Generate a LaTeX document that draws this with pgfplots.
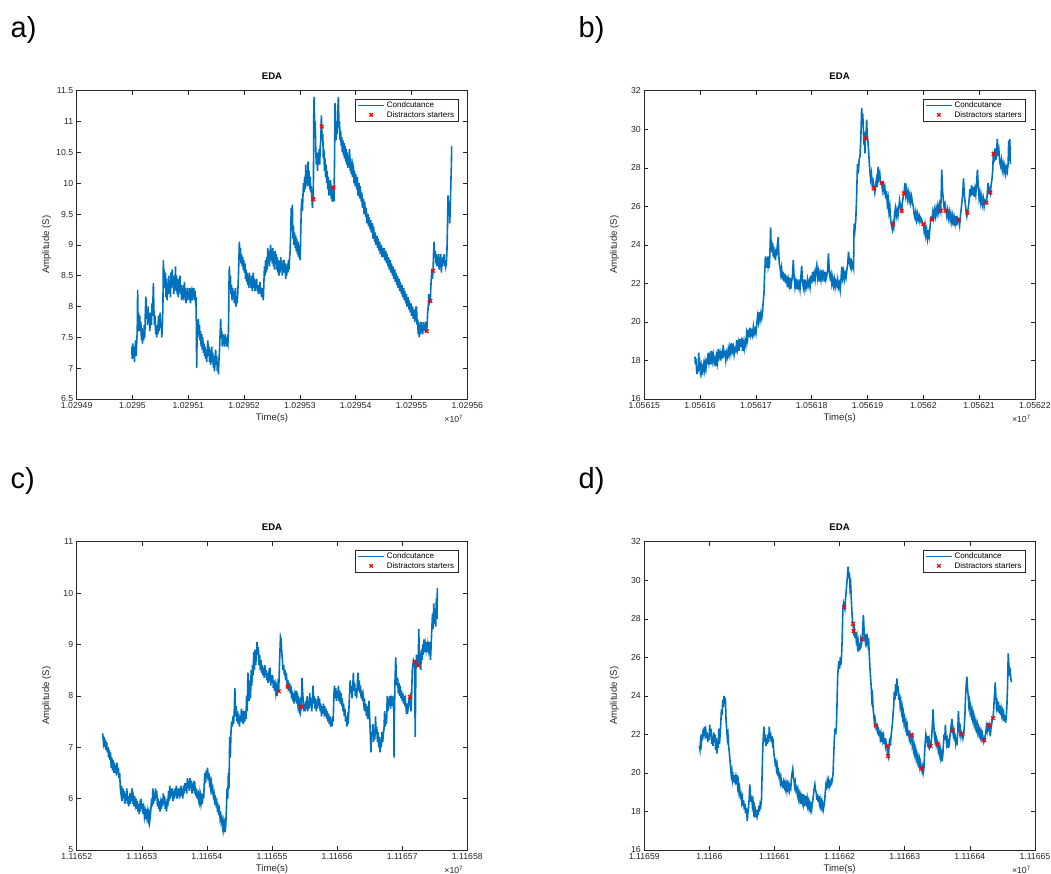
\documentclass[border=0pt]{standalone}
\usepackage{fontspec}
\setmainfont{Liberation Sans}
\usepackage{pgfplots}
\usepackage{pgfplotstable}
\pgfplotsset{compat=1.18}
\definecolor{mblue}{rgb}{0,0.447,0.741}
\definecolor{mgray}{rgb}{0.15,0.15,0.15}

\pgfplotstableread{
x y
98.6 7.35
99.5 7.15
100.5 7.4
101.5 7.2
102.5 7.35
103.5 7.1
104.5 7.3
105.5 7.45
106.5 7.2
107.5 7.4
108.5 7.6
109.2 8.27
110 7.7
111 7.9
112 7.6
113 7.85
114 7.6
115 7.75
116 7.45
117 7.65
118 7.4
119 7.6
120 7.45
121 7.7
122 7.5
123 7.9
124 8.16
125 7.8
126 7.95
127 7.7
128 8.0
129 7.75
130 7.9
131 7.6
132 7.8
133 7.9
134 7.7
135 8.05
136 7.85
137.4 8.38
138.5 7.9
139.5 7.7
140.5 7.85
141.5 7.55
142.5 7.65
143.5 7.5
144.5 7.7
145.5 7.55
146.5 7.85
147.5 7.6
148.5 7.75
149.5 7.9
150.5 7.65
151.5 7.75
152.5 7.5
153.5 7.7
154.5 8.0
155.3 8.75
156 8.5
157 8.6
158 8.3
159 8.55
160 8.15
161 8.45
162 8.1
163 8.35
164 8.2
165 8.5
166 8.25
167 8.4
168 8.15
169 8.55
170 8.3
171 8.6
172 8.35
173 8.5
174 8.2
175 8.45
176 8.25
177 8.65
178 8.3
179 8.5
180 8.2
181 8.45
182 8.15
183 8.4
184 8.25
185 8.5
186 8.2
187 8.35
188 8.1
189 8.3
190 8.15
191 8.35
192 8.1
193 8.4
194 8.15
195 8.3
196 8.05
197 8.25
198 8.1
199 8.3
200 8.15
201 8.25
202 8.1
203 8.3
204 8.05
205 8.2
206 8.25
207 8.1
208 8.3
209 8.15
210 8.3
211 8.1
212 8.25
213 8.1
214 8.15
215 7.0
216 7.65
217 7.5
218 7.8
219 7.55
220 7.7
221 7.45
222 7.6
223 7.35
224 7.55
225 7.3
226 7.5
227 7.25
228 7.4
229 7.2
230 7.35
231 7.15
232 7.3
233 7.1
234 7.3
235 7.45
236 7.2
237 7.35
238 7.1
239 7.3
240 7.05
241 7.2
242 7.35
243 7.1
244 7.25
245 7.0
246 7.2
247 6.95
248 7.15
249 7.3
250 7.05
251 7.2
252 6.95
253 7.1
254 6.9
255 7.15
256 7.3
257 7.55
258 7.8
259 7.5
260 7.6
261 7.35
262 7.55
263 7.4
264 7.5
265 7.35
266 7.55
267 7.4
268 7.5
269 7.35
270 7.45
271 7.4
272 7.6
273 8.4
273.6 8.65
274.5 8.3
275.5 8.5
276.5 8.2
277.5 8.35
278.5 8.1
279.5 8.3
280.5 8.15
281.5 8.25
282.5 8.05
283.5 8.2
284.5 8.3
285.5 8.0
286.5 8.15
287.5 8.05
288.5 8.2
289.5 8.4
290.5 8.7
291.5 9.05
292.5 8.75
293.5 8.95
294.5 8.7
295.5 8.85
296.5 8.65
297.5 8.8
298.5 8.6
299.5 8.75
300.5 8.55
301.5 8.7
302.5 8.45
303.5 8.6
304.5 8.4
305.5 8.55
306.5 8.35
307.5 8.5
308.5 8.3
309.5 8.55
310.5 8.35
311.5 8.45
312.5 8.3
313.5 8.5
314.5 8.25
315.5 8.4
316.5 8.55
317.5 8.3
318.5 8.45
319.5 8.25
320.5 8.4
321.5 8.3
322.5 8.45
323.5 8.25
324.5 8.35
325.5 8.2
326.5 8.35
327.5 8.25
328.5 8.4
329.5 8.2
330.5 8.3
331.5 8.15
332.5 8.3
333.5 8.2
334.5 8.1
335.5 8.4
336.5 8.65
337.5 8.5
338.5 8.75
339.5 8.55
340.5 8.8
341.5 8.6
342.5 8.95
343.5 8.7
344.5 8.9
345.5 8.65
346.5 8.85
347.5 9.0
348.5 8.75
349.5 8.9
350.5 8.7
351.5 8.95
352.5 8.65
353.5 8.85
354.5 8.6
355.5 8.9
356.5 8.7
357.5 8.85
358.5 8.6
359.5 8.8
360.5 8.55
361.5 8.75
362.5 8.5
363.5 8.7
364.5 8.55
365.5 8.8
366.5 8.6
367.5 8.75
368.5 8.5
369.5 8.7
370.5 8.55
371.5 8.75
372.5 8.55
373.5 8.7
374.5 8.45
375.5 8.65
376.5 8.5
377.5 8.7
378.5 8.55
379.5 8.75
380.5 8.6
381.5 8.8
382.5 8.9
383.5 9.2
384.5 9.6
385.5 9.4
386.5 9.65
387.5 9.1
388.5 9.3
389.5 9.0
390.5 9.2
391.5 8.95
392.5 9.15
393.5 8.9
394.5 9.1
395.5 8.85
396.5 9.05
397.5 8.8
398.5 9.0
399.5 8.85
400.5 8.75
401.5 9.2
402.5 9.6
403.5 9.75
404.5 9.55
405.5 9.8
406.5 10.0
407.5 9.85
408.5 10.1
409.5 9.9
410.5 10.3
411.5 10.0
412.5 10.15
413.5 9.95
414.5 10.35
415.5 10.05
416.5 10.2
417.5 9.9
418.5 10.1
419.5 9.85
420.5 9.95
421.5 9.75
422.5 9.6
423.5 9.8
424.1 9.74
425 11.3
425.7 11.4
426.5 10.8
427.5 11.0
428.5 10.5
429.5 10.3
430.5 10.5
431.5 10.2
432.5 10.4
433.5 10.3
434.5 10.55
435.5 10.3
436.5 10.6
437.5 10.7
438.5 11.1
439.1 10.92
440 10.7
441 10.8
442 10.4
443 10.55
444 10.2
445 10.4
446 10.1
447 10.3
448 10.0
449 10.2
450 9.9
451 10.1
452 9.8
453 10.0
454 9.85
455 10.05
456 9.75
457 9.95
458 9.7
459 9.85
460 9.93
461 9.7
462 10.3
463 11.3
464 10.9
465 10.7
466 11.0
467 10.8
468 11.2
469 11.4
470 10.9
471 11.0
472 10.7
473 10.85
474 10.6
475 10.75
476 10.5
477 10.7
478 10.45
479 10.65
480 10.4
481 10.6
482 10.35
483 10.55
484 10.3
485 10.5
486 10.25
487 10.45
488 10.3
489 10.55
490 10.2
491 10.4
492 10.15
493 10.35
494 10.1
495 10.3
496 10.25
497 10.0
498 10.2
499 9.95
500 10.15
502 9.9
503 10.1
504 9.8
506 10.0
507 9.75
508 9.95
510 9.7
511 9.85
512 9.6
514 9.75
515 9.5
516 9.7
518 9.45
519 9.6
520 9.35
522 9.5
523 9.3
524 9.45
526 9.25
527 9.4
528 9.2
530 9.35
531 9.1
532 9.3
534 9.05
535 9.2
536 9.0
538 9.15
539 8.95
540 9.1
542 8.9
543 9.05
544 8.85
546 9.0
547 8.8
548 8.95
550 8.8
551 8.95
552 8.75
554 8.9
555 8.7
556 8.85
558 8.65
559 8.8
560 8.6
562 8.75
563 8.55
564 8.7
566 8.5
567 8.65
568 8.45
570 8.6
571 8.4
572 8.55
574 8.35
575 8.5
576 8.3
578 8.45
579 8.25
580 8.4
582 8.2
583 8.35
584 8.15
586 8.3
587 8.1
588 8.25
590 8.05
591 8.2
592 8.0
594 8.15
595 7.95
596 8.1
598 7.9
599 8.05
600 7.85
602 8.0
603 7.8
604 7.95
606 7.75
607 7.9
608 7.85
609 8.0
610 7.7
611 7.8
612 7.55
613 7.75
614 7.5
615 7.7
616 7.55
617 7.75
618 7.6
619 7.7
620 7.55
621 7.75
622 7.6
623 7.7
624 7.6
625 7.75
626 7.6
627.2 7.60
628 7.7
629 7.9
630 8.0
631 8.2
632 8.05
633.8 8.09
634.5 8.3
635.5 8.45
636.5 8.6
637.5 8.45
638.6 8.58
639.5 8.85
640.5 9.05
641.5 8.8
642.5 8.9
643.5 8.7
644.5 8.85
645.5 8.65
646.5 8.8
647.5 8.7
648.5 8.85
649.5 8.6
650.5 8.8
651.5 8.7
652.5 8.85
653.5 8.55
654.5 8.75
655.5 8.65
656.5 8.8
657.5 8.7
658.5 8.85
659.5 8.65
660.5 8.75
661.5 8.65
662.5 8.7
663.5 8.9
664.5 9.3
665.5 9.8
666.5 9.5
667.5 9.7
668.5 9.35
669.5 9.6
670.5 10.0
671.5 10.3
672 10.6
}\traceA

\pgfplotstableread{
x y
424.1 9.74
439.1 10.92
460.0 9.93
627.2 7.60
633.8 8.09
638.6 8.58
}\markA

\pgfplotstableread{
x y
90.8 18.2
91.5 17.8
92.5 18.1
93.5 17.6
94.5 17.3
95.5 17.7
96.5 17.4
97.5 18.4
98.5 17.6
99.5 17.8
100.5 17.4
102 17.7
103 17.4
104 17.6
105 17.45
106.5 17.8
108 17.5
109 17.9
110.5 17.6
112 18.1
113 17.8
114.5 18.4
116 17.9
117.5 18.2
119 17.8
120.5 18.5
122 18.0
123.5 18.3
125 17.9
126.5 18.1
128 17.7
129.5 18.2
131 17.9
132.5 18.6
134 18.2
135.5 18.4
137 18.0
138.5 18.5
140 18.1
141.5 18.8
143 18.3
144.5 18.4
146 18.0
147.5 18.4
149 18.2
150.5 18.6
152 18.3
153.5 18.7
155 18.4
156.5 18.9
158 18.5
159.5 18.7
161 18.3
162.5 18.6
164 18.5
165.5 19.05
167 18.6
168.5 18.9
170 18.5
171.5 19.1
173 18.7
174.5 19.2
176 18.5
177.5 18.9
179 18.6
180.5 19.0
182 18.8
183.5 19.4
185 19.1
186.5 19.6
188 19.2
189.5 19.7
191 19.3
192.5 19.5
194 19.3
195.5 19.75
197 19.4
198.5 19.6
200 19.4
201.5 19.9
203 20.3
204.5 20.0
206 20.5
207.5 20.1
209 20.45
210.5 20.2
212 20.6
213.5 21.2
214.5 21.5
215.5 22.4
216.5 23.0
217 23.4
218 22.9
219 23.3
220 22.8
221 23.4
222 22.9
223 23.1
224 22.8
225 23.5
226.4 24.9
227.2 24.0
228 24.2
229 23.6
230 24.1
231 23.4
232 23.9
233 23.3
234 23.7
235 23.2
236 23.8
237 23.4
238.5 24.0
240 24.4
241 23.5
242 23.0
243 22.9
244.5 22.5
246 22.8
247.5 22.2
249 22.6
250.5 22.1
252 22.5
253.5 22.0
255 22.4
256.5 21.8
258 22.2
259.5 21.9
261 22.3
262.5 21.7
264 22.1
265.5 22.4
267 23.2
268.5 22.3
270 21.8
271.5 22.1
273 21.7
274.5 22.2
276 21.8
277.5 22.0
279 21.7
280.5 22.3
282 22.9
283.5 22.1
285 21.8
286.5 22.2
288 21.7
289.5 22.0
291 21.8
292.5 22.2
294 21.9
295.5 22.1
297 21.8
298.5 22.4
300 22.0
301.5 22.6
303 22.1
304.5 22.5
306 22.2
307.5 22.7
309 22.95
310.5 22.3
312 22.6
313.5 22.1
315 22.5
316.5 22.2
318 22.7
319.5 22.3
321 22.5
322.5 22.1
324 22.6
325.5 22.2
327 22.4
328.5 22.7
330 23.55
331.5 22.6
333 22.3
334.5 22.5
336 22.0
337.5 22.3
339 21.9
340.5 22.2
342 21.8
343.5 22.1
345 21.9
346.5 22.2
348 21.8
349.5 22.0
351 21.65
352.5 22.2
354 22.87
355.5 22.3
357 22.6
358.5 22.2
360 22.5
361.5 22.3
363 22.7
364.5 23.0
366 23.64
367.5 23.1
369 22.9
370.5 23.3
372 22.8
373.5 23.0
375 22.8
376 25.1
377.5 24.8
379 25.3
380.5 26.5
382 28.2
383.5 27.7
385 28.4
386.5 28.6
388 29.5
389.5 31.1
390.5 30.6
391.5 30.8
392.5 30.0
393.5 29.2
394.5 29.6
395.5 28.75
396.5 29.9
397.3 29.53
398.4 30.5
399.5 29.7
401 29.3
402.5 28.6
404 27.9
405.5 27.4
407 27.7
408.5 27.1
410 27.3
411.6 26.93
413 26.7
414.5 27.1
416 27.4
417.5 27.0
419 28.05
420.5 27.5
422 27.7
423.5 27.2
425.3 27.22
426.5 26.9
428 27.3
429.5 26.8
431 27.0
432.5 26.4
434 26.8
435.5 26.1
437 26.4
438.5 25.7
440 26.0
441.5 25.3
443 25.0
444.5 24.8
445.6 25.08
447 24.9
448.5 25.6
450 25.9
451.5 25.5
453 25.8
454.5 25.5
456 25.9
457.5 26.3
459 26.0
460 25.9
461.2 25.77
462.5 26.2
464 26.5
465.4 26.67
467 27.2
468.5 26.6
470 26.9
471.5 26.4
473 26.7
474.5 26.3
476 26.6
477.5 26.2
479 26.5
480.5 26.2
482 26.0
483.5 25.6
485 25.4
486.5 25.7
488 25.3
489.5 25.6
491 25.3
492.5 25.5
494 25.2
495.5 25.4
497 25.3
498.5 25.1
500 25.08
501.5 24.7
503 25.0
504.5 24.5
506 24.8
507.5 24.3
509 24.6
510.5 24.4
512 24.9
513.5 25.4
515.5 25.32
517 25.7
518.5 25.4
520 25.8
521.5 25.5
523 25.9
524.5 25.6
526 26.0
527.5 25.7
529 26.1
531.1 25.77
532 26.5
533 27.9
534.5 26.8
536 26.3
537.5 25.9
539 26.1
540.6 25.77
542 25.5
543.5 25.8
545 25.4
546.5 25.7
548 25.3
549.5 25.6
551 25.2
552.5 25.5
554 25.0
555.5 25.4
557 25.1
558.5 25.5
560 25.0
561.5 25.4
563.3 25.30
565 25.0
566.5 25.5
568 25.9
569.5 26.3
571 26.8
572 27.45
573.5 26.6
575 26.2
576.5 25.8
578 25.5
578.9 25.67
580.5 25.9
582 26.3
583.5 26.9
585 26.5
586.5 27.1
588 26.6
589.5 27.0
591 26.5
592.5 26.9
594 26.6
595.5 27.2
597 27.9
598.5 27.0
600 26.4
601.5 26.7
603 26.2
604.5 26.5
606 26.1
607.5 26.4
609 26.0
610.5 26.3
612.9 26.19
614.5 26.6
616 27.2
617.5 26.8
619 26.9
620.1 26.72
621.5 27.1
623 27.4
624.5 27.9
625.4 28.75
626 28.71
627 28.3
628.5 29.0
630 28.4
631.5 28.9
632.6 29.5
634 28.6
635.5 28.9
637 28.3
638.5 28.1
640 28.4
641.5 27.9
643 28.2
644.5 27.8
646 28.1
647.5 27.7
649 28.0
650.5 27.8
652 28.2
653 29.4
654 29.1
655 29.5
656 28.2
}\traceB

\pgfplotstableread{
x y
397.3 29.53
411.6 26.93
425.3 27.22
445.6 25.08
461.2 25.77
465.4 26.67
500.0 25.08
515.5 25.32
531.1 25.77
540.6 25.77
563.3 25.30
578.9 25.67
612.9 26.19
620.1 26.72
626.0 28.71
}\markB

\pgfplotstableread{
x y
40 7.27
41 7.1
42 7.2
43 7.0
44 7.15
45 6.95
46 7.1
47 6.9
48 7.0
49 6.8
50 6.95
51 6.75
52 6.9
53 6.6
54 6.8
55 6.55
56 6.75
57 6.5
58 6.7
59 6.5
60 6.65
61 6.45
62 6.7
63 6.5
64 6.6
65 6.4
66 6.5
67 6.2
68 6.1
69 6.25
70 5.95
71 6.2
72 6.0
73 6.15
74 5.9
75 6.1
76 5.95
77 6.2
78 5.9
79 6.05
80 5.85
81 6.0
82 5.9
83 6.1
84 5.95
85 6.2
86 5.9
87 6.0
88 5.85
89 6.05
90 5.9
91 6.0
92 5.8
93 5.95
94 5.75
95 5.9
96 5.7
97 5.85
98 5.75
99 6.0
100 5.8
101 5.9
102 5.7
103 5.8
104 5.65
105 5.75
106 5.6
107 5.8
108 5.65
109 5.75
110 5.6
111 5.7
112 5.55
113 5.65
114 5.8
115 6.0
116 5.85
117 6.2
118 5.9
119 6.1
120 5.95
121 6.2
122 6.0
123 6.15
124 5.85
125 6.0
126 5.8
127 5.95
128 5.75
129 5.9
130 5.8
131 6.0
132 5.85
133 6.1
134 5.9
135 6.05
136 5.8
137 5.95
138 5.75
139 6.0
140 5.85
141 6.15
142 5.95
143 6.25
144 6.0
145 6.2
146 6.05
147 6.2
148 5.95
149 6.15
150 6.0
151 6.2
152 6.05
153 6.25
154 6.0
155 6.2
156 6.05
157 6.2
158 6.0
159 6.15
160 6.25
161 6.05
162 6.2
163 6.0
164 6.25
165 6.1
166 6.3
167 6.15
168 6.3
169 6.1
170 6.4
171 6.2
172 6.35
173 6.15
174 6.4
175 6.2
176 6.35
177 6.1
178 6.3
179 6.15
180 6.35
181 6.1
182 6.2
183 6.05
184 6.2
185 6.0
186 6.15
187 6.0
188 6.1
189 5.95
190 6.05
191 5.9
192 6.0
193 5.9
194 6.1
195 6.0
196 6.3
197 6.5
198 6.3
199 6.55
200 6.4
201 6.6
202 6.35
203 6.5
204 6.3
205 6.35
206 6.2
207 6.3
208 6.15
209 6.2
210 6.05
211 6.1
212 5.95
213 6.0
214 5.9
215 5.95
216 5.8
217 5.85
218 5.75
219 5.8
220 5.65
221 5.75
222 5.55
223 5.6
224 5.45
225 5.55
226 5.4
227 5.5
228 5.35
229 5.5
230 5.8
231 6.2
232 6.0
233 6.5
234 6.2
235 7.2
236 6.8
237 7.3
238 7.5
239 7.4
240 7.6
241 7.45
242 7.7
243 8.15
244 7.6
245 7.8
246 7.5
247 7.7
248 7.45
249 7.65
250 7.4
251 7.6
252 7.5
253 7.75
254 7.6
255 7.7
256 7.45
257 7.6
258 7.5
259 7.7
260 7.55
261 8.0
262 7.7
263 8.45
264 8.2
265 7.9
266 8.3
267 7.95
268 8.5
269 8.2
270 8.6
271 8.4
272 8.85
273 8.5
274 8.9
275 8.6
276 8.8
277 9.05
278 8.8
279 8.95
280 8.6
281 8.8
282 8.5
283 8.7
284 8.45
285 8.6
286 8.4
287 8.55
288 8.35
289 8.6
290 8.4
291 8.5
292 8.3
293 8.45
294 8.25
295 8.4
296 8.3
297 8.55
298 8.2
299 8.4
300 8.25
301 8.4
302 8.15
303 8.3
304 8.1
305 8.2
306 8.05
307 8.15
308 8.0
309 8.2
310.3 8.09
311 8.4
312 8.8
313 9.15
314 9.1
315 8.85
316 8.7
317 8.5
318 8.6
319 8.4
320 8.5
321 8.3
322 8.45
323 8.25
324.1 8.18
325 8.3
326 8.1
327 8.25
328 8.05
329 8.2
330 7.95
331 8.1
332 7.9
333 8.05
334 7.85
335 8.0
336 7.9
337 8.1
338 7.85
339 7.95
340 7.8
341 7.9
342 7.75
343 7.85
344 7.7
345.1 7.79
346 8.35
347 8.1
348 7.9
349 7.7
350 7.85
351 7.7
352 7.9
353 7.75
354 8.0
355 7.7
356 7.9
357 7.75
358 8.05
359 7.8
360 7.95
361 7.7
362 7.9
363 8.2
364 7.85
365 8.0
366 7.75
367 7.95
368 7.7
369 7.9
370 7.75
371 8.0
372 7.8
373 7.95
374 7.7
375 7.85
376 7.6
377 7.8
378 7.65
379 7.85
380 7.7
381 7.8
382 7.6
383 7.75
384 7.55
385 7.7
386 7.5
387 7.65
388 7.45
389 7.6
390 7.4
391 7.55
392 7.4
393 7.6
394 7.5
395 8.0
396 8.2
397 7.95
398 8.15
399 7.9
400 8.1
401 7.95
402 8.2
403 7.9
404 8.1
405 7.85
406 8.05
407 7.8
408 7.95
409 7.7
410 7.85
411 7.6
412 7.75
413 7.5
414 7.6
415 7.4
416 7.55
417 7.45
418 7.7
419 8.0
420 8.3
421 8.05
422 8.2
423 7.95
424 8.15
425 8.45
426 8.1
427 8.25
428 8.0
429 8.15
430 7.95
431 8.2
432 8.45
433 8.1
434 8.3
435 8.05
436 8.2
437 7.95
438 8.1
439 7.9
440 8.0
441 7.85
442 7.95
443 7.7
444 7.85
445 7.6
446 7.8
447 7.55
448 7.7
449 7.9
450 7.6
451 7.25
452 6.9
453 7.3
454 7.2
455 7.45
456 7.1
457 7.35
458 7.15
459 7.6
460 7.25
461 7.4
462 7.1
463 7.3
464 7.0
465 7.2
466 6.9
467 7.15
468 7.0
469 7.3
470 7.1
471 7.25
472 7.35
473 7.7
474 7.4
475 7.6
476 7.45
477 8.0
478 7.7
479 7.95
480 7.8
481 8.0
482 7.75
483 7.9
484 7.8
485 8.0
486 7.85
487 7.9
487.5 6.8
488 7.6
489 8.3
490 8.75
491 8.4
492 8.2
493 8.35
494 8.05
495 8.25
496 8.0
497 8.2
498 7.95
499 8.1
500 7.9
501 8.05
502 7.85
503 8.0
504 7.8
505 7.9
506 7.75
507 7.85
508 7.65
509 7.75
510 7.9
511.8 7.98
512.5 7.8
513.5 7.7
514.5 8.0
515.5 8.5
516.5 8.6
517.5 8.7
519.0 8.66
520 7.2
521 8.5
522 8.8
523 8.6
524.6 8.59
525.5 9.3
526.5 8.6
527.5 8.8
528.5 8.5
529.5 8.9
530.5 8.7
531.5 9.0
532.5 8.8
533.5 9.1
534.5 8.85
535.5 9.0
536.5 8.9
537.5 9.05
538.5 8.85
539.5 9.0
540.5 8.9
541.5 9.05
542.5 8.9
543.5 8.7
544.5 9.0
545.5 9.3
546.5 9.6
547.5 9.3
548.5 9.8
549.5 9.4
550.5 9.7
551.5 9.35
552.5 9.9
553.5 9.5
554 10.1
}\traceC

\pgfplotstableread{
x y
310.3 8.09
324.1 8.18
345.1 7.79
511.8 7.98
519.0 8.66
524.6 8.59
}\markC

\pgfplotstableread{
x y
84.5 21.4
85.5 21.2
86.5 21.7
87.5 21.5
88.5 22.0
89.5 21.7
90.5 22.3
91.5 21.9
92.5 22.4
93.5 22.0
94.5 22.2
95.5 21.8
96.5 22.1
97.5 21.6
98.5 22.0
99.5 21.7
100.5 22.5
101.5 21.9
102.5 22.3
103.5 21.5
104.5 21.9
105.5 21.4
106.5 22.1
107.5 21.6
108.5 22.0
109.5 21.2
110.5 21.8
111.5 21.0
112.5 21.7
113.5 21.3
114.5 22.3
115.5 21.5
116.5 22.0
117.5 22.6
118.5 23.3
119.5 23.0
120.5 23.8
121.5 23.4
122.5 24.0
123.5 23.6
124.5 23.9
125.5 22.8
126.5 22.3
127.5 21.8
128.5 22.0
129.5 21.4
130.5 21.1
131.5 20.7
132.5 20.3
133.5 19.9
134.5 20.1
135.5 19.6
136.5 19.8
137.5 19.5
138.5 19.9
139.5 19.6
140.5 19.8
141.5 19.4
142.5 19.9
143.5 19.3
144.5 19.5
145.5 19.0
146.5 19.2
147.5 18.8
148.5 18.9
149.5 18.5
150.5 18.7
151.5 18.3
152.5 18.6
153.5 18.1
154.5 18.4
155.5 17.9
156.5 18.2
157.5 17.8
158.2 17.5
159 17.9
160 18.2
161 18.6
162 19.4
163 18.9
164 18.5
165 18.8
166 18.3
167 18.5
168 18.0
169 18.2
170 17.7
171 18.0
172 17.8
173 17.7
174 18.1
175 17.8
176 18.3
177 18.0
178 18.4
179 18.3
180 18.6
181 20.0
182 21.3
183 22.0
184 22.4
185 21.6
186 22.0
187 21.4
188 21.8
189 21.5
190 22.0
191 21.6
192 22.4
193 21.8
194 22.1
195 21.6
196 21.9
197 21.5
198 21.6
199 21.0
200 20.8
201 20.5
202 20.6
203 20.2
204 20.4
205 20.0
206 20.1
207 19.8
208 19.9
209 19.5
210 19.7
211 19.3
212 19.6
213 19.2
214 19.5
215 19.3
216 19.5
217 19.2
218 19.4
219 19.1
220 19.4
221 19.2
222 19.4
223 19.1
224 19.3
225 19.2
226 19.7
227 20.0
228 20.2
229 19.8
230 19.6
231 19.3
232 19.5
233 19.1
234 19.2
235 18.9
236 19.1
237 18.7
238 18.9
239 18.6
240 18.8
241 18.4
242 18.7
243 18.5
244 18.9
245 18.4
246 18.6
247 18.3
248 18.8
249 18.5
250 18.7
251 18.3
252 18.5
253 18.2
254 18.4
255 18.1
256 18.3
257 18.1
258 18.4
259 18.6
260 18.9
261 19.2
262 19.4
263 19.1
264 19.0
265 18.6
266 18.9
267 18.5
268 18.8
269 18.4
270 18.6
271 18.3
272 18.5
273 18.2
274 18.4
275 18.1
276 18.3
277 18.5
278 19.0
279 19.4
280 19.3
281 19.6
282 19.4
283 19.6
284 19.3
285 19.5
286 19.4
287 19.6
288 19.5
289 19.7
290 20.0
291 21.0
292 21.8
293 22.3
294 22.0
295 22.4
296 23.5
297 25.0
298 25.5
299 25.8
300 25.4
301 26.0
302 25.6
303 26.1
304 27.0
305 28.5
306 28.8
307.2 28.61
308 28.5
309 29.0
310 29.4
311 29.8
312 30.2
313 30.7
314 30.1
315 30.4
316 29.6
317 29.8
318 29.0
319 28.3
320 27.8
320.5 27.74
321.6 27.36
322.5 27.5
323.5 27.0
324.5 27.3
325.5 26.9
326.5 27.1
327.5 26.6
328.5 26.8
329.5 26.3
330.5 26.7
331.5 26.4
332.5 26.9
333.5 26.7
334.9 26.94
335.5 27.5
336.5 28.2
337.5 27.5
338.5 27.0
339.5 26.8
340.5 27.2
341.5 26.8
342.5 27.0
343.5 26.7
344.5 27.0
345.5 26.2
346.5 25.5
347.5 25.0
348.5 24.5
349.5 23.8
350.5 24.0
351.5 23.3
352.5 23.0
353.5 22.6
354.5 22.8
355.9 22.46
356.5 22.2
357.5 22.5
358.5 22.0
359.5 22.4
360.5 21.9
361.5 22.2
362.5 21.8
363.5 22.0
364.5 21.6
365.5 22.1
366.5 21.7
367.5 21.9
368.5 21.5
369.5 21.8
370.5 21.4
371.5 21.6
372.8 21.40
373.5 21.0
374.3 20.88
375 20.8
376 21.4
377 21.8
378 21.4
379 21.9
380 22.2
381 22.5
382 23.0
383 23.4
384 24.2
385 23.8
386 24.6
387 24.0
388 24.9
389 24.2
390 24.5
391 23.8
392 24.1
393 23.5
394 23.7
395 23.2
396 23.4
397 22.9
398 23.1
399 22.6
400 22.8
401 22.4
402 22.6
403 22.2
404 22.4
405 21.9
406 22.2
407 21.8
408 22.0
409 21.7
410 21.9
410.7 21.96
411.5 21.5
412.5 21.7
413.5 21.2
414.5 21.4
415.5 21.0
416.5 21.2
417.5 20.8
418.5 21.0
419.5 20.6
420.5 20.8
421.5 20.5
422.5 20.7
423.5 20.3
424.5 20.5
425.5 20.23
426.5 20.1
427.5 20.3
428.5 20.0
429.5 20.2
430.5 21.0
431.5 21.6
432.5 22.0
433.5 21.8
434.5 21.6
435.5 21.9
436.5 21.5
437.5 21.7
438.5 21.3
439.8 21.40
440.5 21.6
441.5 21.9
442.5 22.5
443.5 23.3
444.5 22.6
445.5 22.0
446.5 21.7
447.5 21.9
448.5 21.5
449.5 21.7
450.6 21.49
451.5 21.2
452.5 21.4
453.5 21.0
454.5 21.2
455.5 20.8
456.5 21.0
457.5 20.6
458.5 20.9
459.5 21.5
460.5 22.0
461.5 21.7
462.5 22.5
463.5 21.8
464.5 21.5
465.5 21.7
466.5 21.3
467.5 21.6
468.5 21.5
469.5 21.9
470.5 22.2
471.5 22.5
472.5 22.8
473.6 22.20
474.5 22.0
475.5 22.2
476.5 21.8
477.5 21.9
478.5 21.5
479.5 21.7
480.5 21.6
481.5 22.2
482.5 23.2
483.5 22.5
484.5 22.1
485.5 22.3
486.5 21.9
487.5 22.1
488.5 22.03
489.5 21.8
490.5 22.0
491.5 22.4
492.5 23.0
493.5 24.0
494.5 24.6
495.5 25.0
496.5 24.4
497.5 24.0
498.5 23.5
499.5 23.7
500.5 23.2
501.5 23.4
502.5 23.0
503.5 23.2
504.5 22.8
505.5 23.0
506.5 22.6
507.5 22.8
508.5 22.4
509.5 22.6
510.5 22.3
511.5 22.5
512.5 22.1
513.5 22.3
514.5 22.0
515.5 22.2
516.5 21.9
517.5 22.1
518.5 21.8
519.5 22.0
520.5 21.8
521.5 21.6
522.3 21.70
523.5 21.9
524.5 22.1
525.5 22.4
526.5 22.2
527.5 22.6
528.5 22.3
529.9 22.46
530.5 22.2
531.5 21.9
532.5 22.3
533.5 22.5
534.5 22.8
535.6 22.84
536.5 23.2
537.5 23.8
538.5 24.3
539 24.7
540 24.0
541 23.4
542 23.6
543 23.2
544 23.7
545 23.1
546 23.5
547 23.0
548 23.3
549 23.0
550 23.2
551 22.9
552 23.1
553 22.7
554 23.0
555 22.6
556 22.9
557 23.5
558 24.5
559 26.2
560 25.6
561 25.2
562 25.3
563 24.9
564 24.7
}\traceD

\pgfplotstableread{
x y
307.2 28.61
320.5 27.74
321.6 27.36
334.9 26.94
355.9 22.46
372.8 21.40
374.3 20.88
410.7 21.96
425.5 20.23
439.8 21.40
450.6 21.49
473.6 22.20
488.5 22.03
522.3 21.70
529.9 22.46
535.6 22.84
}\markD

\pgfplotsset{
  eda/.style={
    scale only axis, width=390.6pt, height=308.3pt,
    anchor=south west, clip=false,
    axis line style={draw=mgray, line width=0.6pt},
    tick style={draw=mgray, line width=0.5pt},
    tick align=inside, major tick length=4pt,
    xtick pos=both, ytick pos=both,
    ticklabel style={font=\fontsize{8.7}{10}\selectfont, text=mgray},
    yticklabel style={/pgf/number format/assume math mode=true, /pgf/number format/fixed},
    scaled x ticks=false, scaled y ticks=false,
    xlabel={Time(s)}, ylabel={Amplitude (S)},
    label style={font=\fontsize{9.6}{11}\selectfont, text=mgray},
    xlabel style={at={(axis description cs:0.5,-0.0626)}, anchor=center},
    ylabel style={at={(axis description cs:-0.0768,0.5)}, anchor=center},
    title={EDA},
    title style={at={(axis description cs:0.5,1.026)}, anchor=center, font=\bfseries\fontsize{9.6}{11}\selectfont},
    legend style={at={(0.977,0.972)}, anchor=north east, draw=mgray, line width=0.6pt,
      font=\fontsize{8}{8}\selectfont, text=black, inner xsep=2pt, inner ysep=0.5pt, row sep=-2.2pt,
      cells={anchor=west}},
    legend cell align=left,
  },
  edaline/.style={mblue, line width=1.6pt, line join=miter, mark=none,
    legend image code/.code={\draw[mblue, line width=1.4pt] (0pt,0pt) -- (26pt,0pt);}},
  edamark/.style={red, only marks, mark=x, mark size=2.6pt, mark options={line width=1.3pt},
    legend image code/.code={\draw[red, line width=1.1pt] plot[mark=x, mark size=2.4pt, only marks] coordinates {(13pt,0pt)};}},
}

\newcommand{\xten}{\node[anchor=base east, inner sep=0pt, font=\fontsize{8.7}{10}\selectfont, text=mgray] at ([xshift=-4pt,yshift=-24pt]rel axis cs:1,0) {×10\textsuperscript{7}};}

\begin{document}
\begin{tikzpicture}
\begin{axis}[eda, at={(76.7pt,475pt)},
  xmin=0, xmax=700, ymin=6.5, ymax=11.5,
  xtick={0,100,...,700},
  xticklabels={1.02949,1.0295,1.02951,1.02952,1.02953,1.02954,1.02955,1.02956},
  ytick={6.5,7,7.5,8,8.5,9,9.5,10,10.5,11,11.5}]
\addplot[edaline] table[x=x,y=y] {\traceA};
\addplot[edamark] table[x=x,y=y] {\markA};
\legend{Condcutance,Distractors starters}
\xten
\end{axis}

\begin{axis}[eda, at={(644.3pt,475pt)},
  xmin=0, xmax=700, ymin=16, ymax=32,
  xtick={0,100,...,700},
  xticklabels={1.05615,1.05616,1.05617,1.05618,1.05619,1.0562,1.05621,1.05622},
  ytick={16,18,...,32}]
\addplot[edaline] table[x=x,y=y] {\traceB};
\addplot[edamark] table[x=x,y=y] {\markB};
\legend{Condcutance,Distractors starters}
\xten
\end{axis}

\begin{axis}[eda, at={(76.7pt,24pt)},
  xmin=0, xmax=600, ymin=5, ymax=11,
  xtick={0,100,...,600},
  xticklabels={1.11652,1.11653,1.11654,1.11655,1.11656,1.11657,1.11658},
  ytick={5,6,...,11}]
\addplot[edaline] table[x=x,y=y] {\traceC};
\addplot[edamark] table[x=x,y=y] {\markC};
\legend{Condcutance,Distractors starters}
\xten
\end{axis}

\begin{axis}[eda, at={(644.3pt,24pt)},
  xmin=0, xmax=600, ymin=16, ymax=32,
  xtick={0,100,...,600},
  xticklabels={1.11659,1.1166,1.11661,1.11662,1.11663,1.11664,1.11665},
  ytick={16,18,...,32}]
\addplot[edaline] table[x=x,y=y] {\traceD};
\addplot[edamark] table[x=x,y=y] {\markD};
\legend{Condcutance,Distractors starters}
\xten
\end{axis}

\node[anchor=base west, inner sep=0pt, font=\fontsize{29}{29}\selectfont] at (10.5pt,836.3pt) {a)};
\node[anchor=base west, inner sep=0pt, font=\fontsize{29}{29}\selectfont] at (578.5pt,836.3pt) {b)};
\node[anchor=base west, inner sep=0pt, font=\fontsize{29}{29}\selectfont] at (10.5pt,385pt) {c)};
\node[anchor=base west, inner sep=0pt, font=\fontsize{29}{29}\selectfont] at (578.5pt,385pt) {d)};

\pgfresetboundingbox
\path[use as bounding box] (0pt,0pt) rectangle (1051pt,874pt);
\end{tikzpicture}
\end{document}
